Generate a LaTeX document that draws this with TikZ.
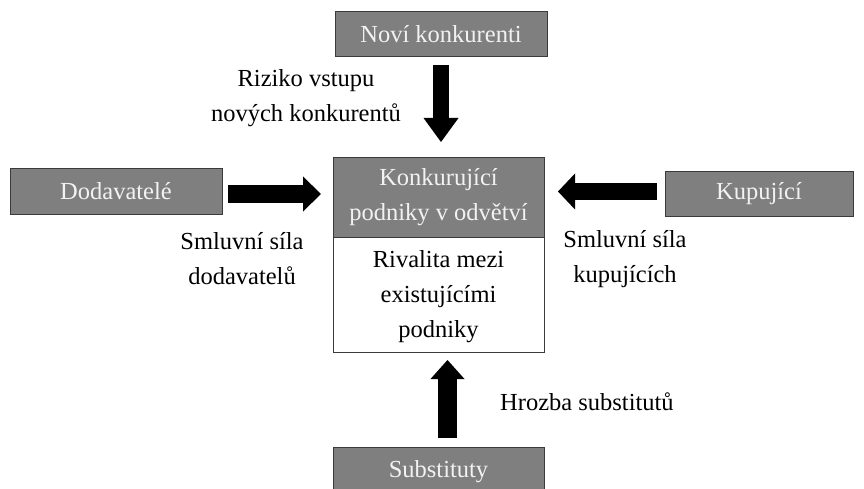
\documentclass[tikz,border=0pt]{standalone}
\usepackage{fontspec}
\setmainfont{Liberation Serif}
\usetikzlibrary{arrows.meta}
\definecolor{boxgray}{HTML}{7F7F7F}
\definecolor{boxline}{HTML}{3A3A3A}
\definecolor{boxtext}{HTML}{F2F2F2}
\newcommand\diafont{\fontsize{24.5}{35}\selectfont}
\begin{document}
\begin{tikzpicture}[x=1pt,y=-1pt,
  gbox/.style={draw=boxline, fill=boxgray, line width=1pt, text=boxtext, font=\diafont, inner sep=0pt, minimum width=212pt, minimum height=45pt},
  lbl/.style={font=\diafont, align=center, inner sep=0pt, text=black},
  blockarrow/.style={draw=black, line width=#1, line cap=butt},
]
\useasboundingbox (0,0) rectangle (864,489);
\begin{scope}
\clip (0,0) rectangle (864,489);
% outer nodes
\node[gbox] (novi) at (441,34.5) {Noví konkurenti};
\node[gbox] (dod) at (116,191.5) {Dodavatelé};
\node[gbox, minimum width=188pt, minimum height=44pt] (kup) at (759,194) {Kupující};
\node[gbox, minimum width=211pt, minimum height=56pt, anchor=north] (sub) at (438.5,447) {};
\node[font=\diafont, text=boxtext] (subt) at (438.5,472) {Substituty};
% central box
\node[gbox, minimum width=211pt, minimum height=80pt, anchor=north] (core) at (438.5,157) {};
\node[draw=boxline, fill=white, line width=1pt, inner sep=0pt, minimum width=211pt, minimum height=115pt, anchor=north] (rival) at (438.5,237) {};
\node[lbl, text=boxtext] (coret) at (438.5,197) {Konkurující\\podniky v odvětví};
\node[lbl] (rivalt) at (438.5,297) {Rivalita mezi\\existujícími\\podniky};
% labels
\node[lbl] (riz) at (306,98.5) {Riziko vstupu\\nových konkurentů};
\node[lbl] (sdod) at (242,259) {Smluvní síla\\dodavatelů};
\node[lbl] (skup) at (625,259) {Smluvní síla\\kupujících};
\node[lbl, anchor=west] (hroz) at (500,402) {Hrozba substitutů};
% arrow end points
\coordinate (a1s) at (441,65);
\coordinate (a1e) at (441,142);
\coordinate (a2s) at (228,194);
\coordinate (a2e) at (321,194);
\coordinate (a3s) at (657,191.5);
\coordinate (a3e) at (558,191.5);
\coordinate (a4s) at (447.5,438);
\coordinate (a4e) at (447.5,360);
\draw[blockarrow=16pt, -{Triangle[width=35pt,length=24pt,line width=0pt]}] (a1s) -- (a1e);
\draw[blockarrow=18pt, -{Triangle[width=35pt,length=18pt,line width=0pt]}] (a2s) -- (a2e);
\draw[blockarrow=17pt, -{Triangle[width=36pt,length=17pt,line width=0pt]}] (a3s) -- (a3e);
\draw[blockarrow=19pt, -{Triangle[width=34pt,length=19pt,line width=0pt]}] (a4s) -- (a4e);
\end{scope}
\end{tikzpicture}
\end{document}
